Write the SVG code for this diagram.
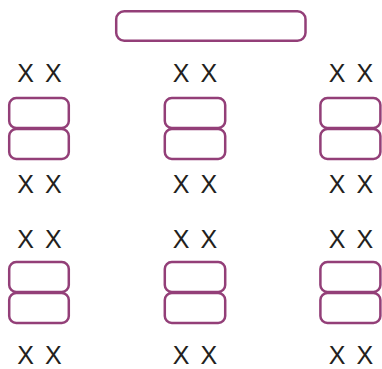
<svg xmlns="http://www.w3.org/2000/svg" width="382" height="369" viewBox="0 0 382 369">
<style>
.b{fill:#fff;stroke:#933f78;stroke-width:2.5}
.t{font-family:"Liberation Sans",Arial,sans-serif;font-size:25px;fill:#231f20;text-anchor:middle;word-spacing:4px}
</style>
<rect width="382" height="369" fill="#fff"/>
<g id="top"><rect class="b" x="116.2" y="11.2" width="189.3" height="29.5" rx="8"/></g>
<g id="c1r1">
<text class="t" x="39.5" y="82">X X</text>
<rect class="b" x="9.2" y="98" width="59.6" height="30" rx="7"/>
<rect class="b" x="9.2" y="129" width="59.6" height="30" rx="7"/>
<text class="t" x="39.5" y="193">X X</text>
</g>
<g id="c2r1">
<text class="t" x="195" y="82">X X</text>
<rect class="b" x="164.8" y="98" width="60.4" height="30" rx="7"/>
<rect class="b" x="164.8" y="129" width="60.4" height="30" rx="7"/>
<text class="t" x="195" y="193">X X</text>
</g>
<g id="c3r1">
<text class="t" x="351" y="82">X X</text>
<rect class="b" x="320.4" y="98" width="60" height="30" rx="7"/>
<rect class="b" x="320.4" y="129" width="60" height="30" rx="7"/>
<text class="t" x="351" y="193">X X</text>
</g>
<g id="c1r2">
<text class="t" x="39.5" y="248">X X</text>
<rect class="b" x="9.2" y="262" width="59.6" height="30" rx="7"/>
<rect class="b" x="9.2" y="293" width="59.6" height="30" rx="7"/>
<text class="t" x="39.5" y="364">X X</text>
</g>
<g id="c2r2">
<text class="t" x="195" y="248">X X</text>
<rect class="b" x="164.8" y="262" width="60.4" height="30" rx="7"/>
<rect class="b" x="164.8" y="293" width="60.4" height="30" rx="7"/>
<text class="t" x="195" y="364">X X</text>
</g>
<g id="c3r2">
<text class="t" x="351" y="248">X X</text>
<rect class="b" x="320.4" y="262" width="60" height="30" rx="7"/>
<rect class="b" x="320.4" y="293" width="60" height="30" rx="7"/>
<text class="t" x="351" y="364">X X</text>
</g>
<g id="connectors"></g>
</svg>
